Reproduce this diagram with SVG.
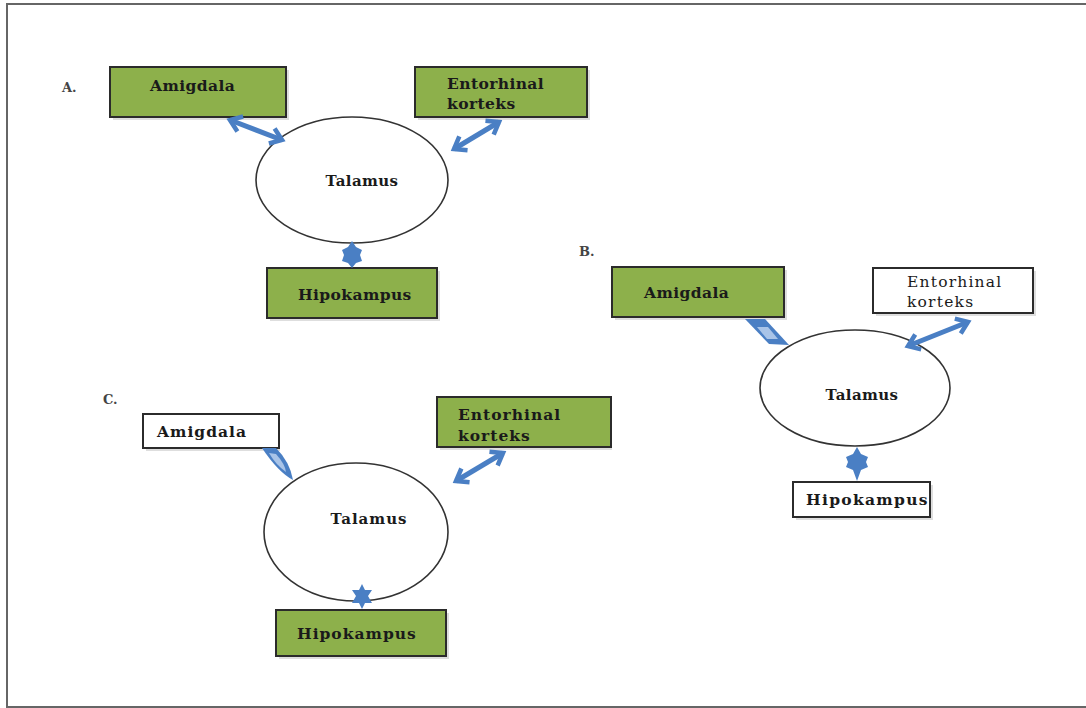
<svg xmlns="http://www.w3.org/2000/svg" width="1086" height="708" viewBox="0 0 1086 708">
<style>
.bx{stroke:#2b2b2b;stroke-width:2}
.g{fill:#8db04b}
.w{fill:#ffffff}
.sh{fill:#c8c8c8;opacity:0.6}
.el{fill:#ffffff;stroke:#333333;stroke-width:1.6}
.t{font-family:"DejaVu Serif","Liberation Serif",serif;font-weight:bold;font-size:15.5px;fill:#1a1a1a;letter-spacing:0.4px}
.tn{font-family:"DejaVu Serif","Liberation Serif",serif;font-size:15.5px;fill:#1a1a1a;letter-spacing:1.2px}
.lbl{font-family:"DejaVu Serif","Liberation Serif",serif;font-weight:bold;font-size:13px;fill:#444444}
.ar{stroke:#4a7fc4;stroke-width:5;fill:none;marker-start:url(#ch);marker-end:url(#ch)}
.bl{fill:#4a7fc4}
.lt{fill:#a9c4e8}
</style>
<defs>
<marker id="ch" markerUnits="userSpaceOnUse" markerWidth="20" markerHeight="20" refX="14" refY="10" orient="auto-start-reverse">
<path d="M3,2 L14,10 L3,18" fill="none" stroke="#4a7fc4" stroke-width="4.5"/>
</marker>
</defs>
<rect x="7" y="4" width="1090" height="703" fill="#ffffff" stroke="#666666" stroke-width="2"/>

<g id="label-A"><text class="lbl" x="62" y="92">A.</text></g>
<g id="label-B"><text class="lbl" x="579" y="256">B.</text></g>
<g id="label-C"><text class="lbl" x="103" y="404">C.</text></g>

<g id="A-amigdala">
<rect class="sh" x="113" y="70" width="176" height="50"/>
<rect class="bx g" x="110" y="67" width="176" height="50"/>
<text class="t" x="150" y="91">Amigdala</text>
</g>
<g id="A-entorhinal">
<rect class="sh" x="418" y="70" width="172" height="50"/>
<rect class="bx g" x="415" y="67" width="172" height="50"/>
<text class="t" x="447" y="89">Entorhinal</text>
<text class="t" x="447" y="109">korteks</text>
</g>
<g id="A-talamus">
<ellipse class="el" cx="352" cy="180" rx="96" ry="63"/>
<text class="t" x="362" y="186" text-anchor="middle" style="font-size:15px">Talamus</text>
</g>
<g id="A-hipokampus">
<rect class="sh" x="270" y="271" width="170" height="50"/>
<rect class="bx g" x="267" y="268" width="170" height="50"/>
<text class="t" x="298" y="300">Hipokampus</text>
</g>

<g id="B-amigdala">
<rect class="sh" x="615" y="270" width="172" height="50"/>
<rect class="bx g" x="612" y="267" width="172" height="50"/>
<text class="t" x="644" y="298">Amigdala</text>
</g>
<g id="B-entorhinal">
<rect class="sh" x="876" y="271" width="160" height="45"/>
<rect class="bx w" x="873" y="268" width="160" height="45"/>
<text class="tn" x="907" y="287">Entorhinal</text>
<text class="tn" x="907" y="307">korteks</text>
</g>
<g id="B-talamus">
<ellipse class="el" cx="855" cy="388" rx="95" ry="58"/>
<text class="t" x="862" y="400" text-anchor="middle" style="font-size:15px">Talamus</text>
</g>
<g id="B-hipokampus">
<rect class="sh" x="796" y="485" width="137" height="35"/>
<rect class="bx w" x="793" y="482" width="137" height="35"/>
<text class="t" x="806" y="505" style="letter-spacing:1.3px">Hipokampus</text>
</g>

<g id="C-amigdala">
<rect class="sh" x="146" y="417" width="134" height="34"/>
<rect class="bx w" x="143" y="414" width="136" height="34"/>
<text class="t" x="157" y="437" style="letter-spacing:1px">Amigdala</text>
</g>
<g id="C-entorhinal">
<rect class="sh" x="440" y="400" width="172" height="50"/>
<rect class="bx g" x="437" y="397" width="174" height="50"/>
<text class="t" x="458" y="420" style="letter-spacing:1px">Entorhinal</text>
<text class="t" x="458" y="441" style="letter-spacing:1px">korteks</text>
</g>
<g id="C-talamus">
<ellipse class="el" cx="356" cy="532" rx="92" ry="69"/>
<text class="t" x="369" y="524" text-anchor="middle" style="letter-spacing:1px;font-size:15px">Talamus</text>
</g>
<g id="C-hipokampus">
<rect class="sh" x="279" y="613" width="170" height="46"/>
<rect class="bx g" x="276" y="610" width="170" height="46"/>
<text class="t" x="297" y="639" style="letter-spacing:1px">Hipokampus</text>
</g>

<g id="connectors">
<line class="ar" x1="230" y1="120" x2="282" y2="140"/>
<line class="ar" x1="499" y1="122" x2="454" y2="149"/>
<polygon class="bl" points="352,241 356,247 362,250 360,255 362,261 356,263 352,268 348,263 342,261 344,255 342,250 348,247"/>
<polygon class="bl" points="745,319 765,319 789,345 769,344"/>
<polygon class="lt" points="757,327 768,327 778,339 767,339"/>
<line class="ar" x1="908" y1="346" x2="968" y2="322"/>
<polygon class="bl" points="857,447 861,454 868,457 866,462 868,467 861,470 857,481 853,470 846,467 848,462 846,457 853,454"/>
<path class="bl" d="M262,448 L276,448 Q290,462 293,480 Q278,472 262,448 Z"/>
<path class="lt" d="M269,453 L276,454 Q285,464 286,472 Q276,465 269,453 Z"/>
<line class="ar" x1="503" y1="453" x2="456" y2="481"/>
<polygon class="bl" points="362,584 365,590 372,590 368,596 372,603 365,603 362,609 359,603 352,603 356,596 352,590 359,590"/>
</g>
</svg>
